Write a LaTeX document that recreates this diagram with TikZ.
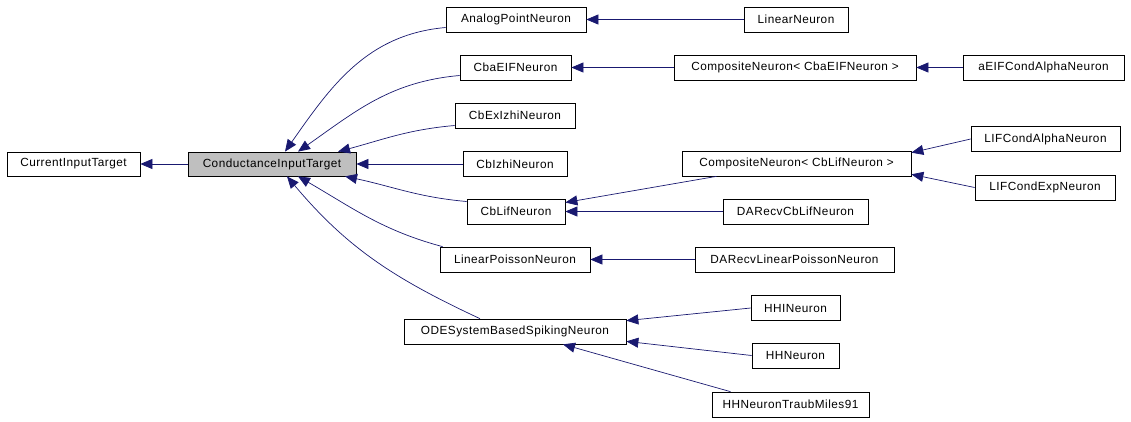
\documentclass[tikz,border=0pt]{standalone}
\usepackage{fontspec}
\newfontfamily\dotfont{Liberation Sans}[LetterSpace=4]
\usetikzlibrary{arrows.meta}
\usepackage{xcolor}
\definecolor{edgeblue}{RGB}{25,25,112}
\definecolor{basegray}{RGB}{191,191,191}

\begin{document}
\begin{tikzpicture}[
            x = 1pt, y = -1pt,
            > = {Triangle[length=12pt, width=10pt]},
            line width = 0.7pt
        ]

        \tikzstyle{class}=[
            draw = black,
            fill = white,
            rectangle,
            inner sep = 0pt,
            minimum height = 25pt,
            font = \dotfont\fontsize{11.8}{13}\selectfont
        ]
        \tikzstyle{derive}=[
            color = edgeblue
        ]

        \useasboundingbox (0,0) rectangle (1131,421);

        % base classes
        \node[class, minimum width=133pt, minimum height=24pt] (current) at (73.5,164) {CurrentInputTarget};
        \node[class, minimum width=168pt, minimum height=24pt, fill=basegray] (cond) at (272,164) {ConductanceInputTarget};

        % first level
        \node[class, minimum width=140pt] (analog) at (516,19.5) {AnalogPointNeuron};
        \node[class, minimum width=111pt] (cbaeif) at (515.5,67.5) {CbaEIFNeuron};
        \node[class, minimum width=120pt] (cbexizhi) at (515,115.5) {CbExIzhiNeuron};
        \node[class, minimum width=104pt] (cbizhi) at (515,164) {CbIzhiNeuron};
        \node[class, minimum width=98pt] (cblif) at (516,211.5) {CbLifNeuron};
        \node[class, minimum width=150pt] (linpoisson) at (515,259.5) {LinearPoissonNeuron};
        \node[class, minimum width=222pt] (ode) at (515,331.5) {ODESystemBasedSpikingNeuron};

        % second level
        \node[class, minimum width=104pt] (linear) at (796,19.5) {LinearNeuron};
        \node[class, minimum width=242pt] (compeif) at (795,67.5) {CompositeNeuron< CbaEIFNeuron >};
        \node[class, minimum width=229pt] (complif) at (796.5,163.5) {CompositeNeuron< CbLifNeuron >};
        \node[class, minimum width=145pt] (darecvlif) at (795.5,211.5) {DARecvCbLifNeuron};
        \node[class, minimum width=199pt] (darecvlp) at (794.5,259.5) {DARecvLinearPoissonNeuron};
        \node[class, minimum width=89pt] (hhi) at (795.5,308) {HHINeuron};
        \node[class, minimum width=87pt] (hh) at (795.5,355.5) {HHNeuron};
        \node[class, minimum width=157pt] (traub) at (790.5,404.5) {HHNeuronTraubMiles91};

        % third level
        \node[class, minimum width=161pt] (aeif) at (1043.5,67.5) {aEIFCondAlphaNeuron};
        \node[class, minimum width=149pt] (lifalpha) at (1045.5,139) {LIFCondAlphaNeuron};
        \node[class, minimum width=140pt] (lifexp) at (1045,187.5) {LIFCondExpNeuron};

        \path[->, derive] (cond) edge (current);

        \path[->, derive] ([yshift=-8pt]analog.west) edge[out=185, in=55] ([xshift=13pt]cond.north);
        \path[->, derive] ([yshift=-8pt]cbaeif.west) edge[out=185, in=35] ([xshift=26pt]cond.north);
        \path[->, derive] ([yshift=-10pt]cbexizhi.west) edge[out=185, in=15] ([xshift=66pt]cond.north);
        \path[->, derive] (cbizhi) edge (cond);
        \path[->, derive] ([yshift=10pt]cblif.west) edge[out=175, in=-12] ([xshift=73pt]cond.south);
        \path[->, derive] ([xshift=3pt]linpoisson.north west) edge[out=165, in=-30] ([xshift=26pt]cond.south);
        \path[->, derive] ([xshift=-35pt]ode.north) edge[out=155, in=-50] ([xshift=15pt]cond.south);

        \path[->, derive] (linear) edge (analog);
        \path[->, derive] (compeif) edge (cbaeif);
        \path[->, derive] (aeif) edge (compeif);
        \path[->, derive] ([xshift=-80pt]complif.south) edge ([yshift=9pt]cblif.east);
        \path[->, derive] (darecvlif) edge (cblif);
        \path[->, derive] (lifalpha.west) edge ([yshift=-2pt]complif.north east);
        \path[->, derive] (lifexp.west) edge ([yshift=2pt]complif.south east);
        \path[->, derive] (darecvlp) edge (linpoisson);
        \path[->, derive] (hhi.west) edge ([yshift=-2pt]ode.north east);
        \path[->, derive] (hh.west) edge ([yshift=3pt]ode.south east);
        \path[->, derive] ([xshift=-60pt]traub.north) edge ([xshift=48pt]ode.south);
    \end{tikzpicture}
\end{document}
